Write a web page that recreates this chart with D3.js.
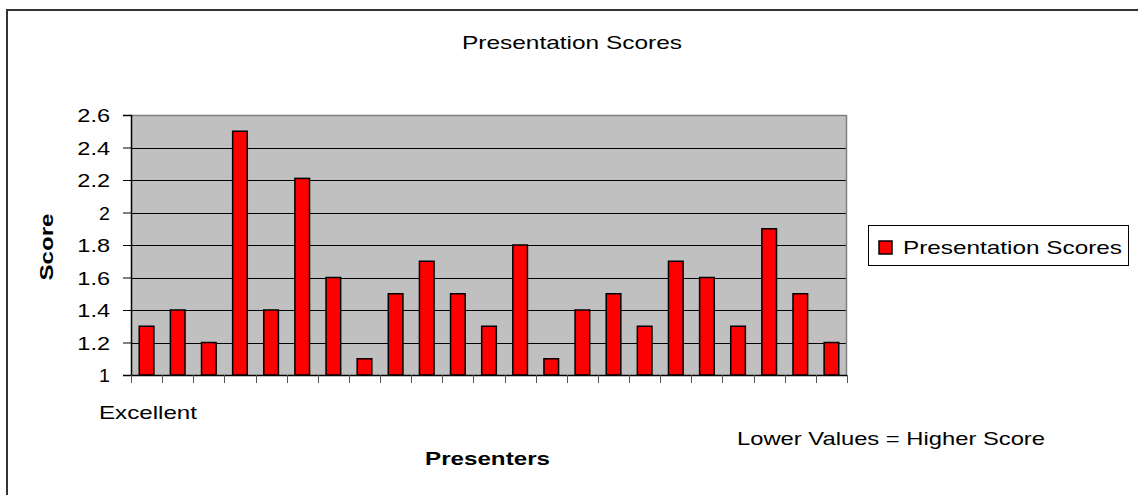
<!DOCTYPE html>
<html><head><meta charset="utf-8">
<script src="https://cdn.jsdelivr.net/npm/d3@7"></script>
<style>
html,body{margin:0;padding:0;background:#fff;overflow:hidden}
text{font-family:"Liberation Sans",Arial,sans-serif;fill:#000}
</style></head>
<body>
<svg id="c" width="1138" height="495"></svg>
<script>
const categories = ["1","2","3","4","5","6","7","8","9","10","11","12","13","14","15","16","17","18","19","20","21","22","23"];
const scores = [1.3,1.4,1.2,2.5,1.4,2.21,1.6,1.1,1.5,1.7,1.5,1.3,1.8,1.1,1.4,1.5,1.3,1.7,1.6,1.3,1.9,1.5,1.2];
const yTicks = [1,1.2,1.4,1.6,1.8,2,2.2,2.4,2.6];
const seriesName = "Presentation Scores";

const svg = d3.select("#c");
const L = 131, R = 847, T = 115, B = 375;
const FS = 19;

// outer frame (right/bottom cropped off in reference)
svg.append("rect").attr("x",7).attr("y",10).attr("width",1300).attr("height",700)
  .attr("fill","none").attr("stroke","#333").attr("stroke-width",2);

const x = d3.scaleBand().domain(categories).range([L,R]).paddingInner(0).paddingOuter(0);
const y = d3.scaleLinear().domain([1,2.6]).range([B,T]);

// plot area
svg.append("rect").attr("x",L).attr("y",T).attr("width",R-L).attr("height",B-T).attr("fill","#c0c0c0");
// gridlines
svg.append("g").selectAll("line").data(yTicks.slice(1,-1)).join("line")
  .attr("x1",L).attr("x2",R).attr("y1",d=>Math.round(y(d))+0.5).attr("y2",d=>Math.round(y(d))+0.5)
  .attr("stroke","#000").attr("stroke-width",1);
// top and right border grey
svg.append("path").attr("d",`M${L},${T+0.5}H${R-0.5}V${B}`).attr("fill","none").attr("stroke","#808080").attr("stroke-width",1.5);

// bars
const bw = x.bandwidth()*0.47;
svg.append("g").selectAll("rect").data(scores).join("rect")
  .attr("x",(d,i)=>x(categories[i])+(x.bandwidth()-bw)/2)
  .attr("y",d=>y(d))
  .attr("width",bw)
  .attr("height",d=>y(1)-y(d))
  .attr("fill","#ff0000").attr("stroke","#000").attr("stroke-width",1.5);

// y axis
const yAxis = d3.axisLeft(y).tickValues(yTicks).tickSize(8).tickPadding(13).tickFormat(d=>String(+d.toFixed(1)));
const gy = svg.append("g").attr("transform",`translate(${L},0)`).call(yAxis);
gy.select(".domain").attr("stroke","#000").attr("stroke-width",1.5);
gy.selectAll(".tick line").attr("stroke","#000");
gy.selectAll(".tick text").attr("font-size",FS).attr("font-family",'"Liberation Sans",Arial,sans-serif').attr("fill","#000")
  .attr("dy","0.36em").attr("textLength",function(d){return String(+d.toFixed(1)).length*10.9;}).attr("lengthAdjust","spacingAndGlyphs");

// x axis (ticks at category boundaries)
const boundaries = categories.map(c=>x(c)).concat([R]);
svg.append("line").attr("x1",L).attr("x2",R).attr("y1",B+0.5).attr("y2",B+0.5).attr("stroke","#000").attr("stroke-width",1.5);
svg.append("g").selectAll("line").data(boundaries).join("line")
  .attr("x1",d=>Math.round(d)+0.5).attr("x2",d=>Math.round(d)+0.5).attr("y1",B).attr("y2",B+8)
  .attr("stroke","#555").attr("stroke-width",1);

function txt(str, xx, yy, w, opts={}){
  const t = svg.append("text").attr("x",xx).attr("y",yy).text(str)
    .attr("font-size",opts.size||FS).attr("textLength",w).attr("lengthAdjust","spacingAndGlyphs");
  if(opts.bold) t.attr("font-weight","bold");
  return t;
}
txt("Presentation Scores", 462, 49, 220);
txt("Excellent", 99, 419, 98);
txt("Presenters", 425, 465, 125, {bold:true});
txt("Lower Values = Higher Score", 737, 445, 308);
// rotated Score
svg.append("text").attr("transform","translate(53,247) rotate(-90)").attr("text-anchor","middle")
  .attr("font-size",FS).attr("font-weight","bold").text("Score").attr("textLength",67).attr("lengthAdjust","spacingAndGlyphs");

// legend
svg.append("rect").attr("x",868.5).attr("y",225.5).attr("width",260).attr("height",40).attr("fill","#fff").attr("stroke","#000").attr("stroke-width",1);
svg.append("rect").attr("x",879).attr("y",241).attr("width",13).attr("height",13).attr("fill","#ff0000").attr("stroke","#000").attr("stroke-width",1.5);
txt(seriesName, 903, 254, 219);
</script>
</body></html>
